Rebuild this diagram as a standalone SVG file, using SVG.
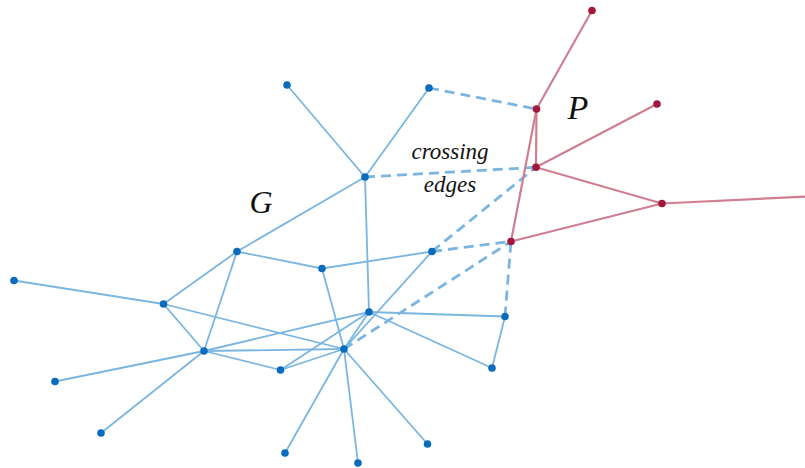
<svg xmlns="http://www.w3.org/2000/svg" width="805" height="468" viewBox="0 0 805 468">
<style>
.e{stroke:#7ab6e0;stroke-width:1.8;fill:none;stroke-linecap:round}
.d{stroke:#7ab6e0;stroke-width:2.8;fill:none;stroke-dasharray:10 6}
.r{stroke:#d07f92;stroke-width:2.2;fill:none;stroke-linecap:round}
.bn{fill:#0a6cbd}
.rn{fill:#a3173a}
.lab{font-family:"Liberation Serif",serif;font-style:italic;fill:#111}
</style>
<rect width="805" height="468" fill="#fff"/>
<g id="connectors">
<g id="g-edges">
<line class="e" x1="287" y1="85" x2="365" y2="177"/>
<line class="e" x1="429" y1="88" x2="365" y2="177"/>
<line class="e" x1="365" y1="177" x2="237" y2="251.5"/>
<line class="e" x1="365" y1="177" x2="369" y2="312"/>
<line class="e" x1="237" y1="251.5" x2="322" y2="268.5"/>
<line class="e" x1="237" y1="251.5" x2="163.5" y2="304"/>
<line class="e" x1="237" y1="251.5" x2="204" y2="351"/>
<line class="e" x1="322" y1="268.5" x2="432" y2="251.5"/>
<line class="e" x1="322" y1="268.5" x2="344" y2="349"/>
<line class="e" x1="163.5" y1="304" x2="14" y2="280.5"/>
<line class="e" x1="163.5" y1="304" x2="204" y2="351"/>
<line class="e" x1="163.5" y1="304" x2="344" y2="349"/>
<line class="e" x1="204" y1="351" x2="369" y2="312"/>
<line class="e" x1="204" y1="351" x2="344" y2="349"/>
<line class="e" x1="204" y1="351" x2="280.5" y2="370"/>
<line class="e" x1="204" y1="351" x2="55" y2="381.5"/>
<line class="e" x1="204" y1="351" x2="101" y2="433"/>
<line class="e" x1="280.5" y1="370" x2="344" y2="349"/>
<line class="e" x1="280.5" y1="370" x2="369" y2="312"/>
<line class="e" x1="344" y1="349" x2="369" y2="312"/>
<line class="e" x1="344" y1="349" x2="432" y2="251.5"/>
<line class="e" x1="344" y1="349" x2="285" y2="453"/>
<line class="e" x1="344" y1="349" x2="358" y2="463"/>
<line class="e" x1="344" y1="349" x2="427.5" y2="444"/>
<line class="e" x1="369" y1="312" x2="505" y2="316.5"/>
<line class="e" x1="369" y1="312" x2="492" y2="368"/>
<line class="e" x1="505" y1="316.5" x2="492" y2="368"/>
</g>
<g id="crossing-edges">
<line class="d" x1="429" y1="88" x2="536.5" y2="109"/>
<line class="d" x1="365" y1="177" x2="536" y2="167.3"/>
<line class="d" x1="432" y1="251.5" x2="536" y2="167.3"/>
<line class="d" x1="432" y1="251.5" x2="511" y2="241.5"/>
<line class="d" x1="344" y1="349" x2="511" y2="241.5"/>
<line class="d" x1="505" y1="316.5" x2="511" y2="241.5"/>
</g>
<g id="p-edges">
<line class="r" x1="592" y1="10.5" x2="536.5" y2="109"/>
<line class="r" x1="536.5" y1="109" x2="536" y2="167.3"/>
<line class="r" x1="536.5" y1="109" x2="511" y2="241.5"/>
<line class="r" x1="536" y1="167.3" x2="657" y2="104"/>
<line class="r" x1="536" y1="167.3" x2="662" y2="203.5"/>
<line class="r" x1="662" y1="203.5" x2="806" y2="196.5"/>
<line class="r" x1="511" y1="241.5" x2="662" y2="203.5"/>
</g>
</g>
<g id="nA"><circle class="bn" cx="287" cy="85" r="3.8"/></g>
<g id="nB"><circle class="bn" cx="429" cy="88" r="3.8"/></g>
<g id="nC"><circle class="bn" cx="365" cy="177" r="3.8"/></g>
<g id="nD"><circle class="bn" cx="237" cy="251.5" r="3.8"/></g>
<g id="nE"><circle class="bn" cx="322" cy="268.5" r="3.8"/></g>
<g id="nF"><circle class="bn" cx="432" cy="251.5" r="3.8"/></g>
<g id="nH"><circle class="bn" cx="163.5" cy="304" r="3.8"/></g>
<g id="nI"><circle class="bn" cx="14" cy="280.5" r="3.8"/></g>
<g id="nJ"><circle class="bn" cx="369" cy="312" r="3.8"/></g>
<g id="nK"><circle class="bn" cx="505" cy="316.5" r="3.8"/></g>
<g id="nL"><circle class="bn" cx="204" cy="351" r="3.8"/></g>
<g id="nM"><circle class="bn" cx="344" cy="349" r="3.8"/></g>
<g id="nN"><circle class="bn" cx="280.5" cy="370" r="3.8"/></g>
<g id="nO"><circle class="bn" cx="492" cy="368" r="3.8"/></g>
<g id="nQ"><circle class="bn" cx="55" cy="381.5" r="3.8"/></g>
<g id="nR"><circle class="bn" cx="101" cy="433" r="3.8"/></g>
<g id="nS"><circle class="bn" cx="285" cy="453" r="3.8"/></g>
<g id="nT"><circle class="bn" cx="358" cy="463" r="3.8"/></g>
<g id="nU"><circle class="bn" cx="427.5" cy="444" r="3.8"/></g>
<g id="p1"><circle class="rn" cx="592" cy="10.5" r="3.8"/></g>
<g id="p2"><circle class="rn" cx="536.5" cy="109" r="3.8"/></g>
<g id="p3"><circle class="rn" cx="657" cy="104" r="3.8"/></g>
<g id="p4"><circle class="rn" cx="536" cy="167.3" r="3.8"/></g>
<g id="p5"><circle class="rn" cx="662" cy="203.5" r="3.8"/></g>
<g id="p7"><circle class="rn" cx="511" cy="241.5" r="3.8"/></g>
<g id="labels">
<text class="lab" x="261" y="212.5" font-size="32" text-anchor="middle">G</text>
<text class="lab" x="578" y="118.5" font-size="34" text-anchor="middle">P</text>
<text class="lab" x="450" y="159" font-size="23" text-anchor="middle">crossing</text>
<text class="lab" x="450" y="192" font-size="23" text-anchor="middle">edges</text>
</g>
</svg>
